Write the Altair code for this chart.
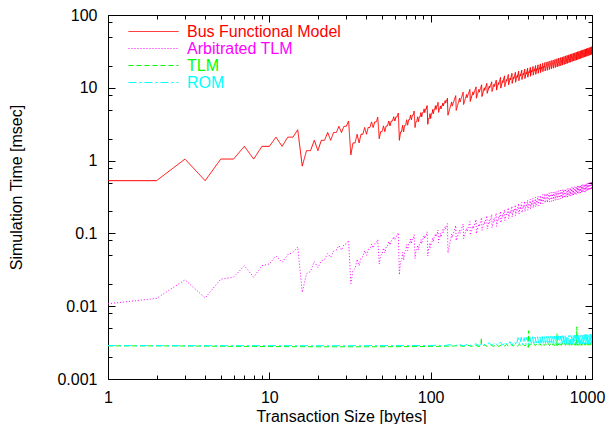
import altair as alt
import pandas as pd

FONT = "Liberation Sans"
SERIES = ["Bus Functional Model", "Arbitrated TLM", "TLM", "ROM"]
COLORS = ["#ff0000", "#ff00ff", "#00ff00", "#00ffff"]
DASHES = [[1, 0], [1, 2], [5, 3], [8, 3, 2, 3]]

# transaction sizes 1..127 (every byte count)
sizes_small = list(range(1, 128))

bfm_small = [
    0.53, 0.53, 1.05, 0.53, 1.05, 1.05, 1.57, 1.05, 1.57, 1.57, 2.1, 1.57, 2.1, 2.1, 2.65,
    0.84, 1.37, 1.37, 1.9, 1.37, 1.9, 1.9, 2.43, 1.9, 2.43, 2.43, 2.96, 2.43, 2.96, 2.96, 3.5,
    1.2, 1.75, 1.75, 2.3, 1.75, 2.3, 2.3, 2.85, 2.3, 2.85, 2.85, 3.4, 2.85, 3.4, 3.4, 3.95,
    2.0, 2.5, 2.5, 3.0, 2.5, 3.0, 3.0, 3.5, 3.0, 3.5, 3.5, 4.0, 3.5, 4.0, 4.0, 4.5,
    1.9, 2.48, 2.48, 3.06, 2.48, 3.06, 3.06, 3.64, 3.06, 3.64, 3.64, 4.22, 3.64, 4.22, 4.22, 4.8,
    2.85, 3.42, 3.42, 3.99, 3.42, 3.99, 3.99, 4.56, 3.99, 4.56, 4.56, 5.13, 4.56, 5.13, 5.13, 5.7,
    3.15, 3.78, 3.78, 4.41, 3.78, 4.41, 4.41, 5.04, 4.41, 5.04, 5.04, 5.67, 5.04, 5.67, 5.67, 6.3,
    4.6, 5.12, 5.12, 5.64, 5.12, 5.64, 5.64, 6.16, 5.64, 6.16, 6.16, 6.68, 6.16, 6.68, 6.68, 7.2,
]

bfm_large = [
    (128, 4.2), (135, 6.4), (136, 5.6), (143, 7.8),
    (144, 4.9), (151, 7.2), (152, 6.4), (159, 8.7),
    (160, 5.9), (167, 8.1), (168, 7.3), (175, 9.5),
    (176, 6.5), (183, 8.8), (184, 8.0), (191, 10.3),
    (192, 7.2), (199, 9.5), (200, 8.7), (207, 11.0),
    (208, 7.6), (215, 10.0), (216, 9.2), (223, 11.5),
    (224, 8.4), (231, 10.6), (232, 9.9), (239, 12.1),
    (240, 8.9), (247, 11.2), (248, 10.4), (255, 12.7),
    (256, 9.3), (263, 11.8), (264, 11.1), (271, 13.9),
    (272, 9.9), (279, 12.5), (280, 11.8), (287, 14.6),
    (288, 10.4), (295, 13.0), (296, 12.3), (303, 15.2),
    (304, 11.0), (311, 13.6), (312, 12.9), (319, 15.8),
    (320, 11.5), (327, 14.1), (328, 13.4), (335, 16.3),
    (336, 11.9), (343, 14.7), (344, 13.9), (351, 16.9),
    (352, 12.5), (359, 15.3), (360, 14.5), (367, 17.5),
    (368, 13.0), (375, 15.8), (376, 15.0), (383, 18.0),
    (384, 13.4), (391, 16.3), (392, 15.5), (399, 18.6),
    (400, 14.0), (407, 16.8), (408, 16.0), (415, 19.1),
    (416, 14.4), (423, 17.3), (424, 16.5), (431, 19.6),
    (432, 14.9), (439, 17.8), (440, 17.0), (447, 20.2),
    (448, 15.3), (455, 18.3), (456, 17.5), (463, 20.7),
    (464, 15.8), (471, 18.8), (472, 18.0), (479, 21.3),
    (480, 16.2), (487, 19.3), (488, 18.4), (495, 21.8),
    (496, 16.7), (503, 19.8), (504, 18.9), (511, 22.3),
    (512, 17.0), (527, 22.7), (528, 17.4), (543, 23.2), (544, 17.8), (559, 23.7),
    (560, 18.2), (575, 24.1), (576, 18.6), (591, 24.6), (592, 19.0), (607, 25.1),
    (608, 19.4), (623, 25.6), (624, 19.8), (639, 26.0), (640, 20.1), (655, 26.5),
    (656, 20.5), (671, 27.0), (672, 20.9), (687, 27.5), (688, 21.3), (703, 27.9),
    (704, 21.7), (719, 28.4), (720, 22.1), (735, 28.9), (736, 22.5), (751, 29.4),
    (752, 22.9), (767, 29.8), (768, 23.3), (783, 30.3), (784, 23.6), (799, 30.8),
    (800, 24.0), (815, 31.3), (816, 24.4), (831, 31.7), (832, 24.8), (847, 32.2),
    (848, 25.2), (863, 32.7), (864, 25.6), (879, 33.2), (880, 26.0), (895, 33.6),
    (896, 26.4), (911, 34.1), (912, 26.8), (927, 34.6), (928, 27.1), (943, 35.1),
    (944, 27.5), (959, 35.5), (960, 27.9), (975, 36.0), (976, 28.3), (991, 36.5),
    (992, 28.7), (1000, 37.0),
]

atlm_small = [
    0.0108, 0.0128, 0.023, 0.013, 0.0235, 0.025, 0.036, 0.025, 0.036, 0.038, 0.049, 0.040, 0.051, 0.055, 0.065,
    0.0155, 0.028, 0.030, 0.041, 0.034, 0.042, 0.044, 0.053, 0.047, 0.057, 0.059, 0.068, 0.059, 0.070, 0.072, 0.080,
    0.0204, 0.031, 0.033, 0.044, 0.036, 0.046, 0.048, 0.058, 0.050, 0.060, 0.062, 0.071, 0.063, 0.072, 0.074, 0.082,
    0.038, 0.050, 0.052, 0.063, 0.054, 0.065, 0.067, 0.077, 0.069, 0.079, 0.081, 0.090, 0.082, 0.091, 0.093, 0.102,
    0.027, 0.041, 0.042, 0.055, 0.043, 0.056, 0.058, 0.070, 0.058, 0.071, 0.072, 0.084, 0.073, 0.085, 0.086, 0.096,
    0.045, 0.057, 0.058, 0.069, 0.059, 0.070, 0.071, 0.082, 0.072, 0.083, 0.084, 0.094, 0.085, 0.095, 0.096, 0.105,
    0.049, 0.061, 0.062, 0.074, 0.064, 0.075, 0.076, 0.087, 0.077, 0.088, 0.089, 0.099, 0.090, 0.100, 0.101, 0.111,
    0.075, 0.087, 0.088, 0.100, 0.089, 0.101, 0.102, 0.113, 0.103, 0.114, 0.115, 0.125, 0.116, 0.126, 0.127, 0.136,
]

atlm_large = [
    (128, 0.054), (135, 0.098), (136, 0.088), (143, 0.128),
    (144, 0.080), (151, 0.110), (152, 0.100), (159, 0.135),
    (160, 0.085), (167, 0.118), (168, 0.107), (175, 0.145),
    (176, 0.095), (183, 0.127), (184, 0.117), (191, 0.155),
    (192, 0.100), (199, 0.135), (200, 0.124), (207, 0.165),
    (208, 0.110), (215, 0.145), (216, 0.134), (223, 0.175),
    (224, 0.115), (231, 0.152), (232, 0.141), (239, 0.183),
    (240, 0.120), (247, 0.158), (248, 0.147), (255, 0.190),
    (256, 0.125), (263, 0.166), (264, 0.155), (271, 0.200),
    (272, 0.140), (279, 0.180), (280, 0.169), (287, 0.212),
    (288, 0.150), (295, 0.191), (296, 0.180), (303, 0.225),
    (304, 0.160), (311, 0.202), (312, 0.190), (319, 0.236),
    (320, 0.168), (327, 0.211), (328, 0.199), (335, 0.246),
    (336, 0.176), (343, 0.220), (344, 0.208), (351, 0.256),
    (352, 0.184), (359, 0.229), (360, 0.217), (367, 0.266),
    (368, 0.192), (375, 0.238), (376, 0.226), (383, 0.276),
    (384, 0.200), (391, 0.247), (392, 0.234), (399, 0.286),
    (400, 0.208), (407, 0.256), (408, 0.243), (415, 0.295),
    (416, 0.216), (423, 0.265), (424, 0.252), (431, 0.305),
    (432, 0.224), (439, 0.274), (440, 0.260), (447, 0.314),
    (448, 0.232), (455, 0.282), (456, 0.268), (463, 0.323),
    (464, 0.240), (471, 0.291), (472, 0.277), (479, 0.332),
    (480, 0.248), (487, 0.299), (488, 0.285), (495, 0.341),
    (496, 0.256), (503, 0.308), (504, 0.294), (511, 0.350),
    (512, 0.262), (527, 0.355), (528, 0.267), (543, 0.360), (544, 0.271), (559, 0.365),
    (560, 0.276), (575, 0.370), (576, 0.280), (591, 0.375), (592, 0.285), (607, 0.380),
    (608, 0.290), (623, 0.386), (624, 0.294), (639, 0.391), (640, 0.299), (655, 0.396),
    (656, 0.303), (671, 0.401), (672, 0.308), (687, 0.406), (688, 0.313), (703, 0.411),
    (704, 0.317), (719, 0.417), (720, 0.322), (735, 0.422), (736, 0.326), (751, 0.427),
    (752, 0.331), (767, 0.432), (768, 0.336), (783, 0.437), (784, 0.340), (799, 0.442),
    (800, 0.345), (815, 0.448), (816, 0.349), (831, 0.453), (832, 0.354), (847, 0.458),
    (848, 0.359), (863, 0.463), (864, 0.363), (879, 0.468), (880, 0.368), (895, 0.473),
    (896, 0.372), (911, 0.479), (912, 0.377), (927, 0.484), (928, 0.382), (943, 0.489),
    (944, 0.386), (959, 0.494), (960, 0.391), (975, 0.499), (976, 0.395), (991, 0.504),
    (992, 0.400), (1000, 0.510),
]

tlm_points = [
    (1, 0.00285), (2, 0.00285), (3, 0.00284), (4, 0.00283), (6, 0.00281), (8, 0.0028),
    (10, 0.00279), (15, 0.00278), (20, 0.00277), (30, 0.00277), (40, 0.00277), (60, 0.00278),
    (80, 0.00279), (100, 0.0028), (120, 0.00282), (140, 0.00284),
    (150, 0.00289), (160, 0.0028), (170, 0.0029), (180, 0.0028), (190, 0.00291), (200, 0.00277),
    (205, 0.00292), (206, 0.0037), (207, 0.00284), (215, 0.00293), (225, 0.0028), (235, 0.00294),
    (245, 0.00281), (255, 0.00295), (265, 0.0028), (275, 0.00296), (285, 0.00282), (295, 0.00297),
    (305, 0.00281), (315, 0.00298), (325, 0.00283), (335, 0.00299), (345, 0.00283), (355, 0.003),
    (365, 0.00284), (375, 0.003), (385, 0.00284), (395, 0.00301), (403, 0.00272), (405, 0.0046),
    (407, 0.00286), (415, 0.00304), (425, 0.00287), (435, 0.00305), (445, 0.00287), (455, 0.00305),
    (465, 0.00288), (475, 0.00306), (485, 0.00287), (495, 0.00306), (505, 0.00288), (515, 0.00306),
    (525, 0.00288), (535, 0.00307), (545, 0.00288), (555, 0.00307), (565, 0.00289), (575, 0.00307),
    (585, 0.00288), (595, 0.00308), (605, 0.00289), (607, 0.0042), (609, 0.00289), (615, 0.00308),
    (625, 0.00289), (635, 0.00308), (645, 0.00289), (655, 0.00309), (665, 0.00289), (675, 0.00309),
    (685, 0.0029), (695, 0.00309), (705, 0.00289), (715, 0.0031), (725, 0.0029), (735, 0.0031),
    (745, 0.0029), (755, 0.0031), (765, 0.0029), (775, 0.0031), (785, 0.0029), (795, 0.0031),
    (803, 0.0029), (805, 0.0052), (807, 0.0029), (815, 0.0031), (825, 0.0029), (835, 0.00311),
    (845, 0.0029), (855, 0.00311), (865, 0.0029), (875, 0.00311), (885, 0.00291), (895, 0.00311),
    (905, 0.00291), (915, 0.00312), (925, 0.00291), (935, 0.00312), (945, 0.00291), (955, 0.00312),
    (965, 0.00291), (975, 0.00312), (985, 0.00291), (995, 0.00312), (1000, 0.003),
]

rom_points = [
    (1, 0.00288), (3, 0.00287), (10, 0.00287), (30, 0.00287), (60, 0.00288), (100, 0.00288),
    (110, 0.00292), (120, 0.00285), (130, 0.00296), (140, 0.00286), (150, 0.00298), (160, 0.00286),
    (170, 0.003), (180, 0.00287), (190, 0.00305), (200, 0.00288), (210, 0.0031), (220, 0.00289),
    (230, 0.00315), (240, 0.0029), (250, 0.00318), (260, 0.0029), (270, 0.0032), (280, 0.00291),
    (290, 0.00322), (300, 0.00291), (310, 0.00325), (320, 0.00292), (330, 0.00328), (340, 0.00292),
    (348, 0.0037), (356, 0.00295), (364, 0.00374), (372, 0.00296), (380, 0.0037), (388, 0.00295),
    (396, 0.00378), (404, 0.00296), (412, 0.00375), (420, 0.00297), (428, 0.0038), (436, 0.00296),
    (444, 0.00377), (452, 0.00297), (460, 0.00382), (468, 0.00297), (476, 0.00379), (484, 0.00298),
    (492, 0.00384), (500, 0.00297), (508, 0.00381), (516, 0.00298), (524, 0.00386), (532, 0.00298),
    (540, 0.00383), (548, 0.00299), (556, 0.00388), (564, 0.00298), (572, 0.00385), (580, 0.00299),
    (588, 0.0039), (596, 0.00299), (604, 0.00387), (612, 0.003), (620, 0.00392), (628, 0.00299),
    (636, 0.00389), (644, 0.003), (652, 0.00394), (660, 0.003), (668, 0.00391), (676, 0.003),
    (684, 0.00396), (692, 0.00301), (700, 0.00393), (708, 0.003), (716, 0.00398), (724, 0.00301),
    (732, 0.00395), (740, 0.00301), (748, 0.004), (756, 0.00301), (764, 0.00397), (772, 0.00302),
    (780, 0.00402), (788, 0.00301), (796, 0.00399), (804, 0.00302), (812, 0.00404), (820, 0.00302),
    (828, 0.00401), (836, 0.00302), (844, 0.00406), (852, 0.00303), (860, 0.00403), (868, 0.00302),
    (876, 0.00408), (884, 0.00303), (892, 0.00405), (900, 0.00303), (908, 0.0041), (916, 0.00303),
    (924, 0.00407), (932, 0.00304), (940, 0.00412), (948, 0.00303), (956, 0.00409), (964, 0.00304),
    (972, 0.00414), (980, 0.00304), (988, 0.0041), (996, 0.00304), (1000, 0.004),
]

x_major = [1, 10, 100, 1000]
x_minor = [2, 3, 4, 5, 6, 7, 8, 9, 20, 30, 40, 50, 60, 70, 80, 90,
           200, 300, 400, 500, 600, 700, 800, 900]
y_major = [0.001, 0.01, 0.1, 1, 10, 100]
y_minor = [0.002, 0.005, 0.008, 0.02, 0.05, 0.08, 0.2, 0.5, 0.8,
           2, 5, 8, 20, 50, 80]


def frame(name, small, large):
    rows = [(s, v) for s, v in zip(sizes_small, small)] + list(large)
    df = pd.DataFrame(rows, columns=["x", "y"])
    df["series"] = name
    return df


df_bfm = frame(SERIES[0], bfm_small, bfm_large)
df_atlm = frame(SERIES[1], atlm_small, atlm_large)
df_tlm = pd.DataFrame(tlm_points, columns=["x", "y"]); df_tlm["series"] = SERIES[2]
df_rom = pd.DataFrame(rom_points, columns=["x", "y"]); df_rom["series"] = SERIES[3]

W, H = 484, 364
xscale = alt.Scale(type="log", domain=[1, 1000], nice=False)
yscale = alt.Scale(type="log", domain=[0.001, 100], nice=False)

label_color_expr = " : ".join(
    f"datum.value == '{s}' ? '{c}'" for s, c in zip(SERIES, COLORS)
) + " : 'black'"

legend = alt.Legend(
    orient="none", legendX=20, legendY=8, direction="vertical", title=None,
    symbolType="stroke", symbolSize=2500, symbolStrokeWidth=1, clipHeight=17,
    labelFont=FONT, labelFontSize=16, labelOffset=8, labelLimit=400,
    rowPadding=0, padding=0,
    labelColor=alt.ExprRef(label_color_expr),
)
color_enc = alt.Color("series:N", scale=alt.Scale(domain=SERIES, range=COLORS), legend=legend)
dash_enc = alt.StrokeDash("series:N", scale=alt.Scale(domain=SERIES, range=DASHES), legend=legend)


def series_layer(df):
    return alt.Chart(df).mark_line(strokeWidth=1, clip=True).encode(
        x=alt.X("x:Q", scale=xscale, axis=None),
        y=alt.Y("y:Q", scale=yscale, axis=None),
        color=color_enc,
        strokeDash=dash_enc,
    )


axis_df = pd.DataFrame({"x": [1, 1000], "y": [0.001, 100]})


def axis_layer(xaxis, yaxis):
    return alt.Chart(axis_df).mark_point(opacity=0).encode(
        x=alt.X("x:Q", scale=xscale, axis=xaxis),
        y=alt.Y("y:Q", scale=yscale, axis=yaxis),
    )


def tick_axis(orient, values, size, offset):
    return alt.Axis(orient=orient, values=values, offset=offset, ticks=True,
                    tickSize=size, tickColor="black", tickWidth=1, labels=False,
                    domain=False, grid=False, title=None)


xa_main = alt.Axis(
    orient="bottom", values=x_major, format="~g", ticks=False, tickSize=0, domain=False,
    grid=False, labelFont=FONT, labelFontSize=16, labelColor="black", labelPadding=10,
    labelFlush=False, labelOverlap=False,
    labelOffset={"condition": {"test": "datum.value == 1000", "value": -5}, "value": 0},
    title="Transaction Size [bytes]", titleFont=FONT, titleFontSize=16,
    titleFontWeight="normal", titleColor="black", titleX=233, titleY=42,
    titleBaseline="alphabetic", titleAlign="center",
)
ya_main = alt.Axis(
    orient="left", values=y_major, format="~g", ticks=False, tickSize=0, domain=False,
    grid=False, labelFont=FONT, labelFontSize=16, labelColor="black", labelPadding=11,
    labelFlush=False, labelOverlap=False,
    title="Simulation Time [msec]", titleFont=FONT, titleFontSize=16,
    titleFontWeight="normal", titleColor="black", titleX=-92, titleY=172,
    titleAngle=270, titleBaseline="middle", titleAlign="center",
)

layers = [
    axis_layer(xa_main, ya_main),
    axis_layer(tick_axis("top", x_major, 7, -H), tick_axis("right", y_major, 7, -W)),
    axis_layer(tick_axis("top", x_minor, 4, -H), tick_axis("right", y_minor, 4, -W)),
    axis_layer(tick_axis("bottom", x_major, 7, -H), tick_axis("left", y_major, 7, -W)),
    axis_layer(tick_axis("bottom", x_minor, 4, -H), tick_axis("left", y_minor, 4, -W)),
    series_layer(df_bfm),
    series_layer(df_atlm),
    series_layer(df_tlm),
    series_layer(df_rom),
]

chart = (
    alt.layer(*layers)
    .resolve_scale(x="shared", y="shared")
    .resolve_axis(x="independent", y="independent")
    .properties(
        width=W, height=H,
        padding={"left": 100, "top": 7, "right": 15, "bottom": 45},
        autosize=alt.AutoSizeParams(type="none"),
        background="white",
    )
    .configure_view(stroke="black", strokeWidth=1)
)

chart.save("out.html", embed_options={"renderer": "svg", "actions": False})
